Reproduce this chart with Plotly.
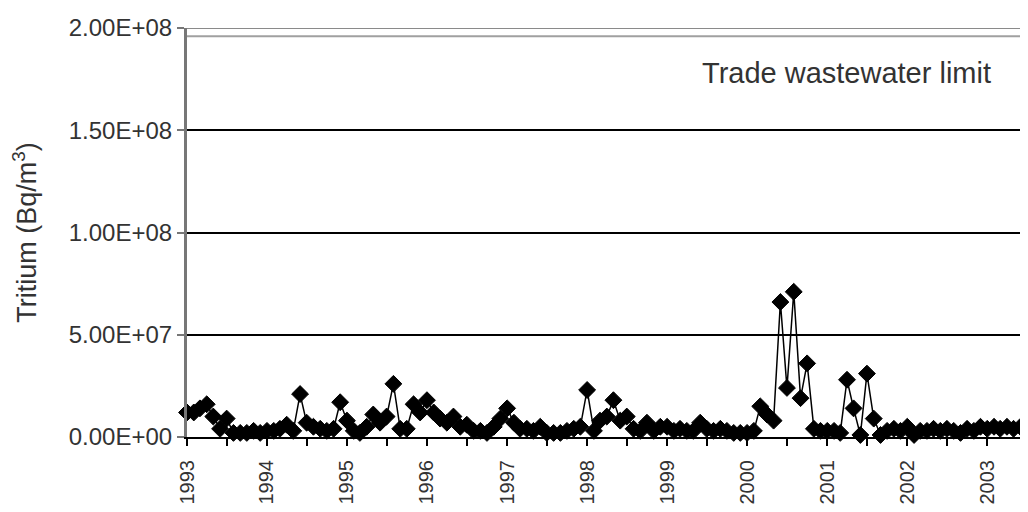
import plotly.graph_objects as go
import pandas as pd

# Monthly tritium concentration (Bq/m3), in millions
values_million = [
    12, 12, 14, 16, 10, 4, 9, 2, 2, 2, 3, 2,          # 1993
    3, 3, 4, 6, 3, 21, 7, 5, 4, 3, 4, 17,             # 1994
    8, 3, 2, 5, 11, 7, 10, 26, 4, 4, 16, 12,          # 1995
    18, 12, 9, 7, 10, 5, 6, 3, 3, 2, 5, 9,            # 1996
    14, 7, 4, 4, 3, 5, 2, 2, 2, 3, 4, 5,              # 1997
    23, 3, 8, 10, 18, 8, 10, 4, 3, 7, 3, 5,           # 1998
    5, 3, 4, 3, 3, 7, 4, 3, 4, 3, 2, 2,               # 1999
    2, 3, 15, 11, 8, 66, 24, 71, 19, 36, 4, 3,        # 2000
    3, 3, 2, 28, 14, 1, 31, 9, 1, 3, 4, 3,            # 2001
    5, 1, 3, 3, 4, 3, 4, 3, 2, 4, 3, 5,               # 2002
    4, 5, 4, 5, 4, 5, 5,                              # 2003
]
dates = pd.date_range("1993-01-01", periods=len(values_million), freq="MS")
values = [v * 1e6 for v in values_million]

y_tick_vals = [0, 5e7, 1e8, 1.5e8, 2e8]
y_tick_text = ["0.00E+00", "5.00E+07", "1.00E+08", "1.50E+08", "2.00E+08"]
year_ticks = [f"{y}-01-01" for y in range(1993, 2004)]
year_labels = [str(y) for y in range(1993, 2004)]
limit_value = 1.96e8
limit_label = "Trade wastewater limit"

FONT = "Liberation Sans, Arial, sans-serif"

fig = go.Figure()
fig.add_trace(go.Scatter(
    x=dates, y=values, mode="lines+markers",
    line=dict(color="black", width=1.5),
    marker=dict(symbol="diamond", size=13, color="black",
                line=dict(color="black", width=1)),
    cliponaxis=False, showlegend=False,
))

# top border and limit line
fig.add_shape(type="line", xref="paper", x0=0, x1=1, yref="y",
              y0=2e8, y1=2e8, line=dict(color="#8a8a8a", width=2))
fig.add_shape(type="line", xref="paper", x0=0, x1=1, yref="y",
              y0=limit_value, y1=limit_value, line=dict(color="#a0a0a0", width=2))
fig.add_annotation(x=0.958, xref="paper", y=1.78e8, yref="y", text=limit_label,
                   showarrow=False, xanchor="right", yanchor="middle",
                   font=dict(family=FONT, size=29, color="#333"))

# page body has an 8px margin, so the figure is sized/offset to compensate
fig.update_layout(
    width=1020, height=504,
    margin=dict(l=179, r=0, t=20, b=75),
    paper_bgcolor="white", plot_bgcolor="white",
    font=dict(family=FONT, color="#333"),
    xaxis=dict(
        type="date", automargin=False,
        range=["1993-01-01", "2003-07-06"],
        tickvals=year_ticks, ticktext=year_labels,
        tickangle=-90, tickfont=dict(family=FONT, size=20, color="#333"),
        ticklabelstandoff=6,
        ticks="outside", ticklen=7, tickwidth=2, tickcolor="black",
        minor=dict(dtick="M6", ticks="outside", ticklen=7, tickwidth=2,
                   tickcolor="black", tick0="1993-01-01"),
        showline=True, linecolor="black", linewidth=2,
        showgrid=False, zeroline=False,
    ),
    yaxis=dict(
        range=[0, 2e8], automargin=False,
        tickvals=y_tick_vals, ticktext=y_tick_text,
        tickfont=dict(family=FONT, size=24, color="#333"),
        ticks="outside", ticklen=7, tickwidth=2, tickcolor="#777",
        showline=True, linecolor="#777", linewidth=3,
        showgrid=True, gridcolor="black", gridwidth=2,
        zeroline=False,
        title=dict(text="Tritium (Bq/m<sup>3</sup>)",
                   font=dict(family=FONT, size=27, color="#333"),
                   standoff=28),
    ),
)

fig.write_html("out.html")
